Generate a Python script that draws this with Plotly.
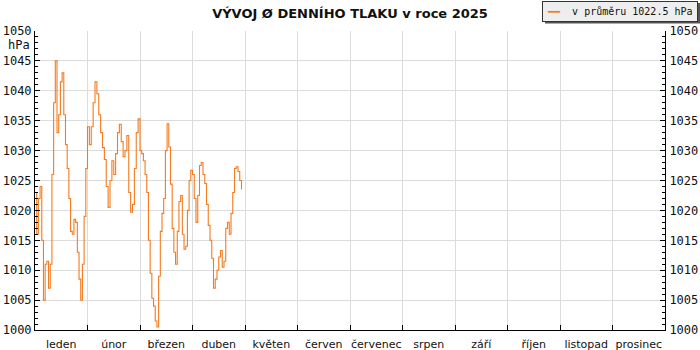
import plotly.graph_objects as go

months = ["leden", "únor", "březen", "duben", "květen", "červen",
          "červenec", "srpen", "září", "říjen", "listopad", "prosinec"]
days_in_month = [31, 28, 31, 30, 31, 30, 31, 31, 30, 31, 30, 31]

jan = [1023, 1016, 1022, 1024, 1015, 1005, 1011, 1011.5, 1007, 1011, 1026,
       1038, 1045, 1033, 1036, 1041.5, 1043, 1036, 1031, 1027, 1022, 1016.5,
       1016, 1018.5, 1018, 1013, 1008.5, 1005, 1011, 1019, 1027]
feb = [1034, 1031, 1034, 1038, 1041.5, 1039.5, 1036, 1033, 1030.5, 1028.5,
       1024, 1020.5, 1025, 1028.3, 1026, 1029.5, 1033, 1034.4, 1031.5, 1029,
       1030, 1032.5, 1023, 1019.7, 1021, 1027, 1033, 1035.3]
mar = [1030, 1029.5, 1028.3, 1026, 1023, 1015, 1009.5, 1005.3, 1004, 1001.5,
       1000.5, 1009, 1016.5, 1019.5, 1022, 1030, 1034.5, 1030.6, 1024.4, 1017,
       1013, 1011, 1016.5, 1021.5, 1022.5, 1016, 1013.5, 1014, 1020, 1025,
       1026.7]
apr = [1026, 1022, 1018, 1022.5, 1027.5, 1028, 1026, 1024.5, 1021, 1017.5,
       1015, 1012, 1007, 1008.5, 1010, 1012.2, 1013.3, 1010.5, 1011.5, 1017,
       1018, 1016, 1019.5, 1023, 1027, 1027.3, 1026.5, 1025, 1023.5]
monthly_values = [jan, feb, mar, apr]

y_ticks = list(range(1000, 1051, 5))
legend_label = "v průměru 1022.5 hPa"
title_text = "VÝVOJ Ø DENNÍHO TLAKU v roce 2025"
line_color = "#f47b20"

# build x positions: month index + fraction of month
xs, ys = [], []
for m, vals in enumerate(monthly_values):
    n = days_in_month[m]
    for d, v in enumerate(vals):
        xs.append(m + d / n)
        ys.append(v)

W, H = 700, 350
L, R, T, B = 35, 35, 31, 20
pw, ph = W - L - R, H - T - B


def px_x(p):
    return (p - L) / pw


def px_y(p):
    return (H - B - p) / ph


fig = go.Figure()
fig.add_trace(go.Scatter(x=xs, y=ys, mode="lines", name=legend_label,
                         line=dict(color=line_color, width=1.1, shape="hv"),
                         showlegend=False))
fig.add_trace(go.Scatter(x=[None], y=[None], yaxis="y2", showlegend=False,
                         hoverinfo="skip"))

mono = dict(family="DejaVu Sans Mono", size=12, color="#111")

yax = dict(range=[1000, 1050], tickmode="array", tickvals=y_ticks,
           ticks="inside", ticklen=5, tickcolor="black", showline=True,
           linecolor="black", linewidth=1, tickfont=mono, zeroline=False,
           automargin=False,
           minor=dict(dtick=1, ticks="inside", ticklen=3, tickcolor="black",
                      showgrid=False))

fig.update_layout(
    template="none",
    width=W, height=H,
    margin=dict(l=L, r=R, t=T, b=B, autoexpand=False),
    paper_bgcolor="white", plot_bgcolor="white",
    title=dict(text="<b>" + title_text + "</b>", x=0.5, xref="container",
               y=1 - 13 / H, yref="container", yanchor="middle",
               font=dict(family="DejaVu Sans", size=13, color="#111")),
    xaxis=dict(range=[0, 12], tickmode="array",
               tickvals=[i + 0.5 for i in range(12)], ticktext=months,
               ticks="", showgrid=False, showline=True, linecolor="black",
               linewidth=1, zeroline=False, automargin=False,
               ticklabelstandoff=4,
               tickfont=dict(family="DejaVu Sans", size=11, color="#111"),
               minor=dict(tickmode="array", tickvals=list(range(1, 12)),
                          ticks="inside", ticklen=5, tickcolor="black",
                          showgrid=True, gridcolor="#dcdcdc", gridwidth=1)),
    yaxis=dict(yax, showgrid=True, gridcolor="#dcdcdc", gridwidth=1,
               side="left"),
    yaxis2=dict(yax, overlaying="y", side="right", showgrid=False,
                matches="y", ticklabelstandoff=1),
    shapes=[dict(type="rect", xref="paper", yref="paper",
                 x0=px_x(545), x1=px_x(700), y0=px_y(23.5), y1=px_y(3),
                 fillcolor="#555555", line=dict(width=0), layer="above")],
    annotations=[
        dict(text="hPa", xref="paper", yref="paper", x=0, y=1,
             xanchor="right", yanchor="middle", xshift=-3, yshift=-14,
             showarrow=False, font=mono),
        dict(text='<span style="color:%s">━━</span>&nbsp;&nbsp;%s'
             % (line_color, legend_label),
             xref="paper", yref="paper", x=px_x(698), y=px_y(1),
             xanchor="right", yanchor="top", showarrow=False,
             bgcolor="#eeeeee", bordercolor="#333333", borderwidth=1,
             borderpad=4,
             font=dict(family="DejaVu Sans Mono", size=10, color="#111")),
    ],
)

fig.write_html("out.html",
               config={"displayModeBar": False},
               post_script="document.body.style.margin='0';"
                           "document.body.style.padding='0';")
